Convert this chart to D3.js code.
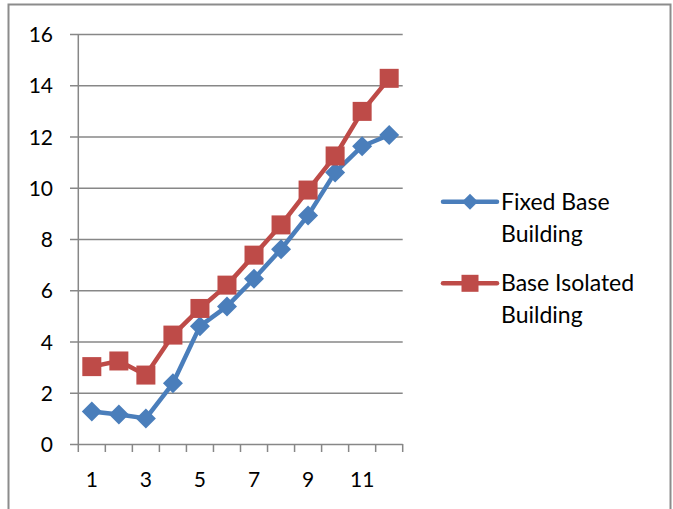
<!DOCTYPE html>
<html>
<head>
<meta charset="utf-8">
<script src="https://cdn.jsdelivr.net/npm/d3@7"></script>
<style>
  html, body { margin: 0; padding: 0; background: #fff; }
  svg { display: block; }
  text { font-family: Lato, "Open Sans", sans-serif; fill: #000; }
</style>
</head>
<body>
<script>
// Storey numbers along the x axis
const storeys = [1, 2, 3, 4, 5, 6, 7, 8, 9, 10, 11, 12];
// Values for each building type
const fixedBase = [1.27, 1.15, 1.0, 2.37, 4.6, 5.37, 6.45, 7.6, 8.92, 10.6, 11.62, 12.06];
const baseIsolated = [3.02, 3.24, 2.69, 4.25, 5.29, 6.2, 7.37, 8.55, 9.91, 11.24, 12.98, 14.27];
const yTicks = [0, 2, 4, 6, 8, 10, 12, 14, 16];
const xTickLabels = [1, 3, 5, 7, 9, 11];
const seriesNames = [["Fixed Base", "Building"], ["Base Isolated", "Building"]];

const W = 673, H = 509;
const svg = d3.select("body").append("svg").attr("width", W).attr("height", H);

// Outer frame
svg.append("rect")
  .attr("x", 8.5).attr("y", 4.5).attr("width", 662).attr("height", 520)
  .attr("fill", "none").attr("stroke", "#8c8c8c").attr("stroke-width", 2);

const x = d3.scaleBand().domain(storeys).range([78.3, 402.7]).padding(0);
const y = d3.scaleLinear().domain([0, 16]).range([444, 34]);

const gridColor = "#878787";

// Horizontal gridlines with the y axis
const yAxis = d3.axisLeft(y).tickValues(yTicks).tickSize(-(402.7 - 70)).tickPadding(17).tickFormat(d3.format("d"));
const gy = svg.append("g").attr("transform", "translate(70,0)").call(yAxis);
gy.select(".domain").remove();
gy.selectAll(".tick line").attr("stroke", gridColor).attr("stroke-width", 1.5);
gy.selectAll(".tick text").attr("font-size", 21).attr("dy", "0.36em");

// Left axis line
svg.append("line")
  .attr("x1", 78.3).attr("x2", 78.3).attr("y1", y(16)).attr("y2", y(0))
  .attr("stroke", gridColor).attr("stroke-width", 1.5);

// Category boundary ticks on the x axis
const boundaries = storeys.map(d => x(d)).concat([x(storeys[storeys.length - 1]) + x.bandwidth()]);
svg.append("g").selectAll("line").data(boundaries).join("line")
  .attr("x1", d => d).attr("x2", d => d)
  .attr("y1", y(0)).attr("y2", y(0) + 8)
  .attr("stroke", gridColor).attr("stroke-width", 1.5);

svg.append("g").selectAll("text").data(xTickLabels).join("text")
  .attr("x", d => x(d) + x.bandwidth() / 2)
  .attr("y", 486.5)
  .attr("text-anchor", "middle")
  .attr("font-size", 21)
  .text(d => d);

const cx = d => x(d) + x.bandwidth() / 2;
const series = [
  { values: fixedBase, color: "#4a7ebb", shape: "diamond" },
  { values: baseIsolated, color: "#be4b48", shape: "square" }
];

const line = d3.line().x((d, i) => cx(storeys[i])).y(d => y(d));

function marker(g, shape, color, size) {
  if (shape === "diamond") {
    g.append("path")
      .attr("d", `M0,${-size}L${size},0L0,${size}L${-size},0Z`)
      .attr("fill", color);
  } else {
    g.append("rect")
      .attr("x", -size).attr("y", -size).attr("width", 2 * size).attr("height", 2 * size)
      .attr("fill", color);
  }
}

series.forEach(s => {
  svg.append("path")
    .datum(s.values)
    .attr("d", line)
    .attr("fill", "none")
    .attr("stroke", s.color)
    .attr("stroke-width", 4.5)
    .attr("stroke-linejoin", "round")
    .attr("stroke-linecap", "round");
  s.values.forEach((v, i) => {
    const g = svg.append("g").attr("transform", `translate(${cx(storeys[i])},${y(v)})`);
    marker(g, s.shape, s.color, s.shape === "diamond" ? 10 : 9.5);
  });
});

// Legend
const legendRows = [201.7, 283.3];
series.forEach((s, i) => {
  const ly = legendRows[i];
  const g = svg.append("g");
  g.append("line")
    .attr("x1", 443).attr("x2", 497).attr("y1", ly).attr("y2", ly)
    .attr("stroke", s.color).attr("stroke-width", 4.5).attr("stroke-linecap", "round");
  const mg = g.append("g").attr("transform", `translate(470,${ly})`);
  marker(mg, s.shape, s.color, s.shape === "diamond" ? 8 : 8.5);
  const t = g.append("text").attr("x", 501).attr("y", ly + 8).attr("font-size", 23);
  seriesNames[i].forEach((line, j) => {
    t.append("tspan").attr("x", 501).attr("dy", j === 0 ? 0 : 32).text(line);
  });
});
</script>
</body>
</html>
